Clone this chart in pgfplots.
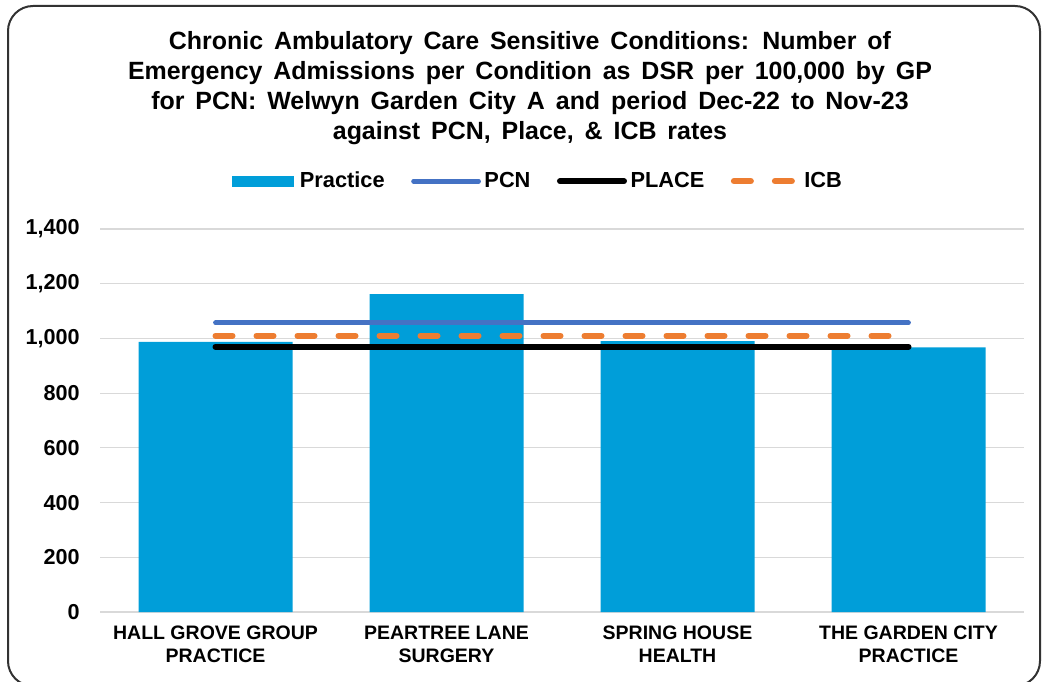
\documentclass[border=0pt]{standalone}
\usepackage{fontspec}
\setmainfont{Liberation Sans}
\usepackage{pgfplots}
\pgfplotsset{compat=1.18}
\definecolor{barblue}{RGB}{0,158,217}
\definecolor{pcnblue}{RGB}{68,114,196}
\definecolor{icborange}{RGB}{237,125,49}
\definecolor{gridgray}{RGB}{217,217,217}
\definecolor{framegray}{RGB}{50,50,50}

\begin{document}
\begin{tikzpicture}
% 1 px of the reference = 0.2 mm
\useasboundingbox (0,0) rectangle (209.6mm,136.2mm);
\clip (0,0) rectangle (209.6mm,136.2mm);
\draw[line width=0.4mm, framegray, rounded corners=5mm] (1.6mm,-1mm) rectangle (208mm,135mm);

\node[align=center, font=\bfseries\fontsize{14.2}{17.07}\selectfont] at (106mm,118.5mm)
  {\spaceskip=6.2pt plus 1pt Chronic Ambulatory Care Sensitive Conditions: Number of\\
   \spaceskip=6.2pt plus 1pt Emergency Admissions per Condition as DSR per 100,000 by GP\\
   \spaceskip=6.2pt plus 1pt for PCN: Welwyn Garden City A and period Dec-22 to Nov-23\\
   \spaceskip=6.2pt plus 1pt against PCN, Place, \& ICB rates};

\begin{axis}[
    at={(20mm,13.8mm)}, anchor=south west,
    scale only axis, width=184.8mm, height=76.6mm,
    xmin=-0.5, xmax=3.5, ymin=0, ymax=1400,
    xtick={0,1,2,3},
    xticklabels={{HALL GROVE GROUP\\PRACTICE}, {PEARTREE LANE\\SURGERY},
                 {SPRING HOUSE\\HEALTH}, {THE GARDEN CITY\\PRACTICE}},
    ytick={0,200,...,1400},
    axis line style={draw=none},
    major tick length=0pt,
    ymajorgrids, grid style={gridgray, line width=0.25mm},
    /pgf/number format/assume math mode=true,
    /pgf/number format/.cd, 1000 sep={,}, /pgfplots/.cd,
    yticklabel style={font=\bfseries\fontsize{12.3}{14}\selectfont, inner sep=0pt, xshift=-4mm},
    xticklabel style={font=\bfseries\fontsize{11.1}{13.1}\selectfont, align=center, inner sep=0pt, yshift=-2.8mm},
    legend columns=4,
    legend style={draw=none, fill=none, at={(0.475,1.125)}, anchor=center,
                  font=\bfseries\fontsize{12.4}{14}\selectfont,
                  /tikz/every even column/.append style={column sep=4.6mm},
                  /tikz/every odd column/.append style={column sep=0mm}},
]
\addplot[ybar, bar width=30.8mm, fill=barblue, draw=none,
  legend image code/.code={\fill[barblue] (0mm,-1.1mm) rectangle (12.4mm,1.1mm); \path (12.8mm,0);}]
  coordinates {(0,987) (1,1162) (2,990) (3,967)};
\addlegendentry{Practice}
\addplot[pcnblue, line width=0.95mm, line cap=round,
  legend image code/.code={\draw[pcnblue, line width=0.95mm, line cap=round] (0.5mm,0) -- (13.5mm,0);}]
  coordinates {(0,1057) (3,1057)};
\addlegendentry{PCN}
\addplot[black, line width=1.2mm, line cap=round,
  legend image code/.code={\draw[black, line width=1.2mm, line cap=round] (0.6mm,0) -- (13.4mm,0);}]
  coordinates {(0,970) (3,970)};
\addlegendentry{PLACE}
\addplot[icborange, line width=1.2mm, line cap=round, dash pattern=on 3.4mm off 4.8mm,
  legend image code/.code={\draw[icborange, line width=1.2mm, line cap=round, dash pattern=on 3.4mm off 4.8mm] (0.6mm,0) -- (13.4mm,0);}]
  coordinates {(0,1010) (3,1010)};
\addlegendentry{ICB}
\end{axis}
\end{tikzpicture}
\end{document}
